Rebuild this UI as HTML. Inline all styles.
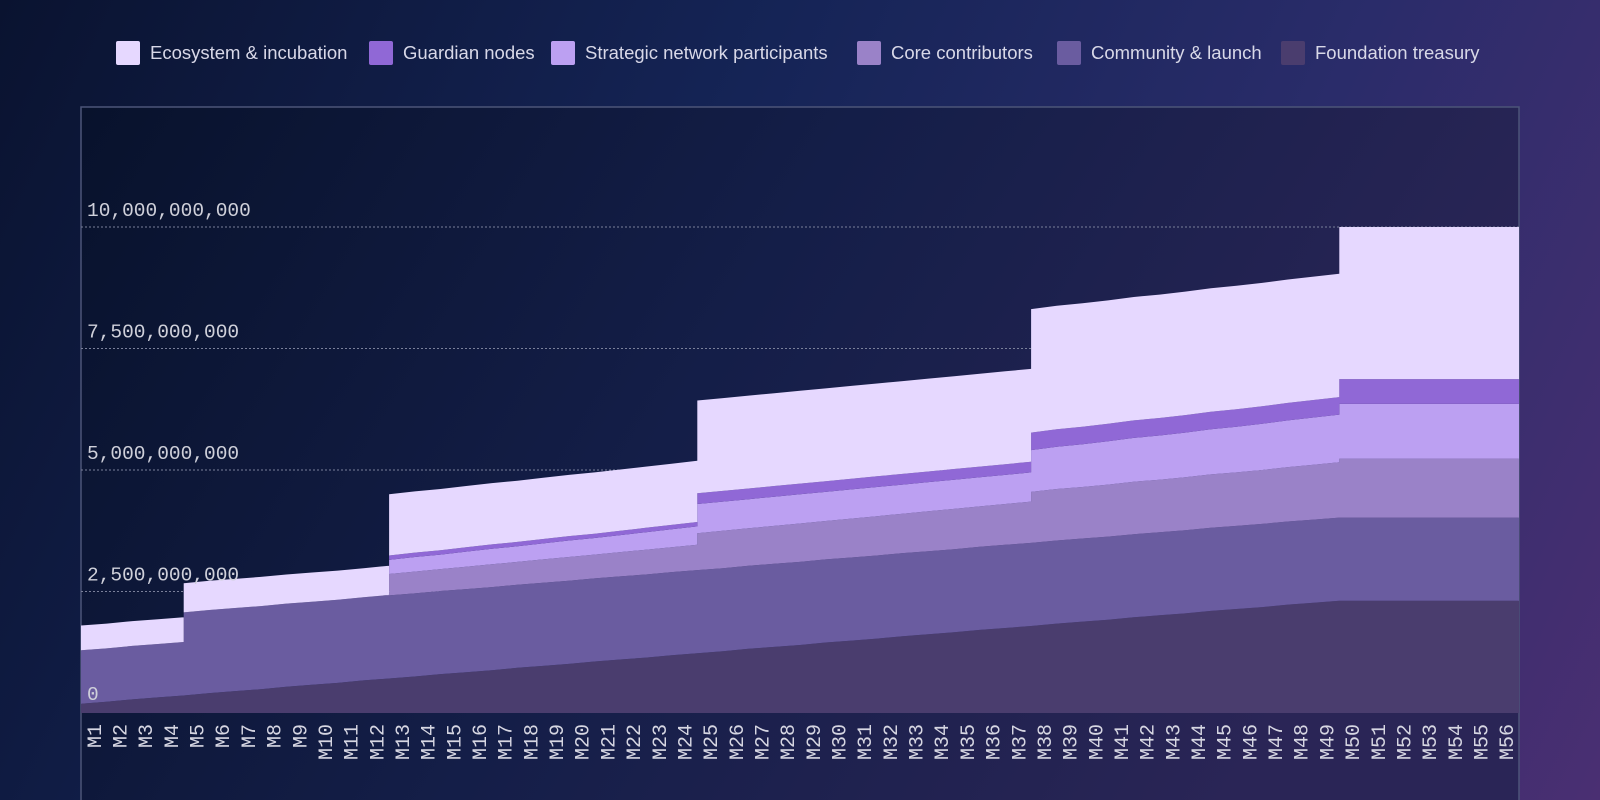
<!DOCTYPE html>
<html><head><meta charset="utf-8"><style>
html,body{margin:0;padding:0;width:1600px;height:800px;overflow:hidden}
body{background:linear-gradient(115deg,#0a1330 0%,#152456 40%,#2a2c6a 70%,#4a2f72 100%)}
svg{display:block}
</style></head><body>
<svg id="chart" width="1600" height="800" viewBox="0 0 1600 800" xmlns="http://www.w3.org/2000/svg">
<defs>
<linearGradient id="plotbg" x1="0" y1="0" x2="1" y2="0.3">
<stop offset="0" stop-color="#08122c"/><stop offset="0.5" stop-color="#141e48"/><stop offset="1" stop-color="#2a2556"/>
</linearGradient>
</defs>
<g id="legend"></g>
<rect x="81" y="107" width="1438" height="720" fill="url(#plotbg)" stroke="#4c5578" stroke-width="1.5"/>
<g id="grid"></g>
<g id="areas"></g>
<g id="ylabels"></g>
<g id="xlabels"></g>
</svg>
<script>
const months = [];
for (let i = 1; i <= 56; i++) months.push('M' + i);
const seriesNames = ['Foundation treasury','Community & launch','Core contributors','Strategic network participants','Guardian nodes','Ecosystem & incubation'];
const foundation = [0.19,0.23,0.28,0.32,0.36,0.41,0.45,0.49,0.54,0.58,0.62,0.67,0.71,0.75,0.80,0.84,0.88,0.93,0.97,1.01,1.06,1.10,1.14,1.19,1.23,1.27,1.32,1.36,1.40,1.45,1.49,1.53,1.58,1.62,1.66,1.71,1.75,1.79,1.84,1.88,1.92,1.97,2.01,2.05,2.10,2.14,2.18,2.23,2.27,2.31,2.31,2.31,2.31,2.31,2.31,2.31];
const community = [1.1,1.1,1.1,1.1,1.71,1.71,1.71,1.71,1.71,1.71,1.71,1.71,1.71,1.71,1.71,1.71,1.71,1.71,1.71,1.71,1.71,1.71,1.71,1.71,1.71,1.71,1.71,1.71,1.71,1.71,1.71,1.71,1.71,1.71,1.71,1.71,1.71,1.71,1.71,1.71,1.71,1.71,1.71,1.71,1.71,1.71,1.71,1.71,1.71,1.71,1.71,1.71,1.71,1.71,1.71,1.71];
const core = [0,0,0,0,0,0,0,0,0,0,0,0,0.44,0.45,0.45,0.46,0.47,0.47,0.48,0.49,0.49,0.50,0.51,0.51,0.76,0.77,0.77,0.78,0.79,0.79,0.80,0.81,0.81,0.82,0.83,0.83,0.84,1.05,1.06,1.06,1.07,1.08,1.08,1.09,1.10,1.10,1.11,1.12,1.13,1.21,1.21,1.21,1.21,1.21,1.21,1.21];
const strategic = [0,0,0,0,0,0,0,0,0,0,0,0,0.29,0.30,0.30,0.31,0.32,0.32,0.33,0.34,0.34,0.35,0.36,0.37,0.60,0.60,0.60,0.60,0.60,0.60,0.60,0.60,0.60,0.60,0.60,0.60,0.60,0.86,0.87,0.88,0.89,0.90,0.91,0.92,0.93,0.94,0.95,0.96,0.97,1.13,1.13,1.13,1.13,1.13,1.13,1.13];
const guardian = [0,0,0,0,0,0,0,0,0,0,0,0,0.09,0.09,0.09,0.09,0.09,0.09,0.09,0.09,0.09,0.09,0.09,0.09,0.22,0.22,0.22,0.22,0.22,0.22,0.22,0.22,0.22,0.22,0.22,0.22,0.22,0.36,0.36,0.36,0.36,0.36,0.36,0.36,0.36,0.36,0.36,0.36,0.36,0.51,0.51,0.51,0.51,0.51,0.51,0.51];
const ecosystem = [0.51,0.51,0.51,0.51,0.60,0.60,0.60,0.60,0.60,0.60,0.60,0.60,1.26,1.26,1.26,1.26,1.26,1.26,1.26,1.26,1.26,1.26,1.26,1.26,1.91,1.91,1.91,1.91,1.91,1.91,1.91,1.91,1.91,1.91,1.91,1.91,1.91,2.54,2.54,2.54,2.54,2.54,2.54,2.54,2.54,2.54,2.54,2.54,2.54,3.13,3.13,3.13,3.13,3.13,3.13,3.13];
const yTicks = [0, 2.5, 5, 7.5, 10];
const yTickLabels = ['0','2,500,000,000','5,000,000,000','7,500,000,000','10,000,000,000'];

const NS = 'http://www.w3.org/2000/svg';
const X0 = 81, X1 = 1519, Y0 = 713, PXB = 48.6;
const band = (X1 - X0) / months.length;
const xs = i => X0 + i * band;
const ys = v => Y0 - v * PXB;
const colors = ['#4a3d6e','#6a5ca0','#9a82c8','#bca0f2','#9068d6','#e6d8ff'];
const series = [foundation, community, core, strategic, guardian, ecosystem];

const cum = [];
let prev = months.map(() => 0);
cum.push(prev);
series.forEach(s => { prev = prev.map((p, i) => p + s[i]); cum.push(prev); });

function linePts(c) {
  const pts = [];
  const n = c.length;
  for (let i = 0; i < n; i++) {
    pts.push([xs(i), c[i]]);
    const slope = i > 0 ? c[i] - c[i - 1] : (c[1] - c[0]);
    if (i === n - 1) { pts.push([xs(n), c[i]]); break; }
    const d = c[i + 1] - c[i];
    if (i > 0 && d > 1.8 * Math.abs(slope) + 0.02) {
      pts.push([xs(i + 1), c[i] + slope]);
    } else if (i === 0 && d > 0.15) {
      pts.push([xs(1), c[0]]);
    }
  }
  return pts;
}

const grid = document.getElementById('grid');
yTicks.forEach((t, k) => {
  if (t === 0) return;
  const l = document.createElementNS(NS, 'line');
  
  
  l.setAttribute('x1', X0); l.setAttribute('x2', X1);
  l.setAttribute('y1', ys(t)); l.setAttribute('y2', ys(t));
  l.setAttribute('stroke', '#7a809a'); l.setAttribute('stroke-width', '1');
  l.setAttribute('stroke-dasharray', '2,2');
  grid.appendChild(l);
});

const areas = document.getElementById('areas');
for (let s = 0; s < series.length; s++) {
  const top = linePts(cum[s + 1]);
  const bot = linePts(cum[s]).reverse();
  const d = 'M' + top.map(p => p[0].toFixed(1) + ',' + ys(p[1]).toFixed(1)).join('L') +
    'L' + bot.map(p => p[0].toFixed(1) + ',' + ys(p[1]).toFixed(1)).join('L') + 'Z';
  const path = document.createElementNS(NS, 'path');
  
  
  path.setAttribute('d', d);
  path.setAttribute('fill', colors[s]);
  areas.appendChild(path);
}

const yl = document.getElementById('ylabels');
yTicks.forEach((t, k) => {
  const tx = document.createElementNS(NS, 'text');
  
  
  tx.setAttribute('x', 87);
  tx.setAttribute('y', ys(t) - (t === 0 ? 13 : 11));
  tx.setAttribute('font-family', '"Liberation Mono", monospace');
  tx.setAttribute('font-size', '19.5');
  tx.setAttribute('fill', '#cfd0da');
  tx.textContent = yTickLabels[k];
  yl.appendChild(tx);
});

const xl = document.getElementById('xlabels');
months.forEach((m, i) => {
  const cx = xs(i) + band / 2 + 7;
  const tx = document.createElementNS(NS, 'text');
  
  
  tx.setAttribute('transform', 'translate(' + cx.toFixed(1) + ',724) rotate(-90)');
  tx.setAttribute('text-anchor', 'end');
  tx.setAttribute('font-family', '"Liberation Mono", monospace');
  tx.setAttribute('font-size', '20');
  tx.setAttribute('fill', '#d6d6e2');
  tx.textContent = m;
  xl.appendChild(tx);
});

const legendOrder = [5, 4, 3, 2, 1, 0];
const swX = [116, 369, 551, 857, 1057, 1281];
const lg = document.getElementById('legend');
legendOrder.forEach((s, k) => {
  const g = document.createElementNS(NS, 'g');
  
  
  const r = document.createElementNS(NS, 'rect');
  
  
  r.setAttribute('x', swX[k]); r.setAttribute('y', 41);
  r.setAttribute('width', 24); r.setAttribute('height', 24); r.setAttribute('rx', 2);
  r.setAttribute('fill', colors[s]);
  g.appendChild(r);
  const t = document.createElementNS(NS, 'text');
  
  
  t.setAttribute('x', swX[k] + 34); t.setAttribute('y', 59);
  t.setAttribute('font-family', '"Liberation Sans", sans-serif');
  t.setAttribute('font-size', '18.5');
  t.setAttribute('fill', '#d8d8e8');
  t.textContent = seriesNames[s];
  g.appendChild(t);
  lg.appendChild(g);
});
</script>
</body></html>
